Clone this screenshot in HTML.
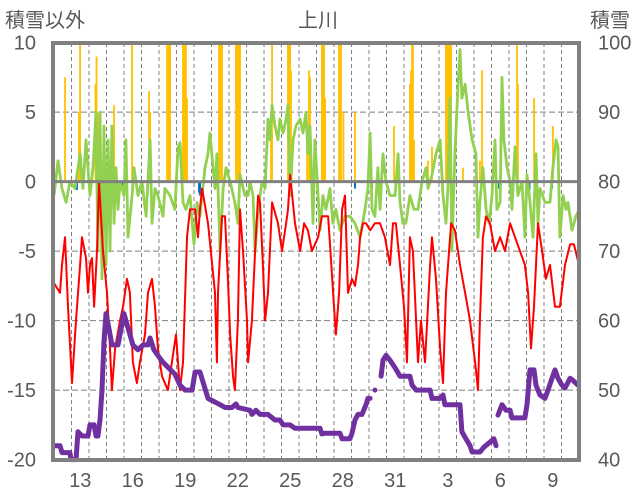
<!DOCTYPE html>
<html><head><meta charset="utf-8">
<style>
body{margin:0;background:#fff;}
svg{display:block;font-family:"Liberation Sans","Noto Sans CJK JP",sans-serif;}
</style></head>
<body>
<svg id="chart" width="636" height="501" viewBox="0 0 636 501">
<g id="grid"></g>
<g id="bars"></g>
<g id="lines"></g>
<g id="axes"></g>
<text x="318" y="27" font-size="20" fill="#595959" text-anchor="middle">上川</text>
<text x="5" y="27" font-size="20" fill="#595959">積雪以外</text>
<text x="590" y="27" font-size="20" fill="#595959">積雪</text>
</svg>
<script>
const xTickLabels=["13","16","19","22","25","28","31","3","6","9"];
const xTickDays=[1.5,4.5,7.5,10.5,13.5,16.5,19.5,22.5,25.5,28.5];
const leftTicks=[10,5,0,-5,-10,-15,-20];
const rightTicks=[100,90,80,70,60,50,40];
const yellowT=[.63,1.43,1.49,2.37,2.43,2.49,3.43,4.46,5.43,5.49,6.46,6.51,6.57,6.63,7.37,7.43,7.49,7.54,7.6,9.43,9.49,9.54,9.6,10.4,10.46,10.51,10.57,10.63,12.4,12.46,13.37,13.43,13.49,13.54,14.46,14.57,14.63,15.31,15.37,15.43,15.49,16.29,16.34,16.4,16.54,17.2,19.43,20.34,20.4,20.46,20.51,20.57,21.37,21.6,22.4,22.46,22.51,22.57,22.63,22.69,23.37,24.34,24.46,26.46,26.51,27.43,28.51];
const yellowV=[7.5,5,10,7,9,5,5.5,10,6.5,5,10,10,10,10,10,10,8,10,6,10,10,10,10,10,10,10,10,10,5,10,10,10,10,8,3.5,8,7.5,10,10,10,6,10,10,10,5,5,4,7,8,10,10,3,1.5,2.5,10,10,10,10,10,10,1,1.5,8,10,7,6,4];
const blueT=[1.31,3.94,8.29,8.34,17.2,18.17,18.69,25.43,27.09,27.17,28.46];
const blueV=[-0.6,-0.3,-0.8,-1,-0.5,-0.6,-1,-0.5,-0.6,-0.6,-0.5];
const greenT=[0,.23,.46,.69,.91,1.2,1.49,1.66,1.83,2.06,2.23,2.4,2.51,2.63,2.74,2.86,2.97,3.09,3.2,3.31,3.43,3.54,3.66,3.77,4,4.11,4.23,4.46,4.57,4.8,5.03,5.26,5.49,5.6,5.77,5.94,6.23,6.34,6.63,6.91,7.09,7.2,7.37,7.54,7.77,8,8.17,8.34,8.63,8.8,8.91,9.09,9.2,9.31,9.49,9.66,9.83,10.06,10.34,10.51,10.63,10.91,11.09,11.2,11.37,11.49,11.66,11.89,12.06,12.23,12.34,12.46,12.63,12.8,12.91,13.09,13.26,13.37,13.49,13.66,13.83,14.06,14.23,14.4,14.51,14.63,14.8,14.91,15.09,15.2,15.37,15.54,15.77,15.94,16.11,16.34,16.63,16.91,17.2,17.49,17.77,17.94,18.06,18.17,18.34,18.51,18.63,18.8,18.97,19.2,19.49,19.66,19.77,19.94,20.11,20.34,20.57,20.8,21.03,21.26,21.37,21.6,21.83,22.06,22.23,22.4,22.51,22.63,22.74,22.91,23.09,23.2,23.31,23.49,23.66,23.89,24.11,24.23,24.34,24.51,24.69,24.86,25.03,25.2,25.31,25.49,25.6,25.71,25.89,26.06,26.17,26.34,26.51,26.74,26.91,27.03,27.2,27.37,27.54,27.66,27.77,28.06,28.34,28.51,28.69,28.8,28.91,29.09,29.26,29.37,29.6,29.83,30];
const greenV=[-1,1.5,-0.5,-1.5,0,-0.5,2,-0.5,3,-1,1,5,-5,5,-7,4,-6,3,-5,4,-3,1,-2,0,-1,3,-4,-1,1,-1,0,-2.5,3,-3,-0.5,-1,-2.5,-0.5,-1,-2,2.5,2.8,-1.5,-2,-1,-4.5,-1.5,-2.5,1,2,3.5,1,-0.5,2,-5,-0.5,1,0,-1.5,-3,0.5,-1,-1,0,-1,-5,-2,0,-0.5,4.5,3,5.5,4,3,4.5,3.5,4.5,5.5,-1,3,4,4.5,3.5,5,2,4,-3,3,-1,-3.5,-1,-2,-0.5,-3,-2,-3.5,-2.5,-2.5,-3,-4,-2,-0.5,3.5,-2,-2.5,1,-2,2,0,-1,-1,2,-1.5,-3,-3,-1,-2,-2,0,1,-0.5,0.5,2,3,-1,-3,-0.5,6,-5,2,7,9.5,6,7,5,3,2,-4,-1.5,1,-2,-3,-1,3,-2,-1.5,7.5,3,1,0,-2,2.5,-1,0,-4,0.5,-1.5,-4,2,-3,-0.5,-1.5,-1.5,1,3,2.5,-4,-1,-2,-1.5,-3.5,-2.5,-2];
const redT=[0,.34,.46,.63,.8,1.03,1.26,1.49,1.6,1.83,1.94,2.06,2.17,2.29,2.46,2.57,2.8,3.03,3.2,3.31,3.49,3.77,3.94,4.17,4.34,4.51,4.74,4.91,5.2,5.37,5.6,5.77,5.94,6.17,6.51,6.74,6.97,7.2,7.37,7.6,7.77,8.06,8.23,8.34,8.46,8.8,9.2,9.31,9.37,9.6,9.77,9.94,10.06,10.23,10.34,10.51,10.63,10.8,11.03,11.09,11.31,11.49,11.66,11.77,11.94,12.06,12.23,12.46,12.8,13.03,13.26,13.37,13.49,13.77,14.06,14.29,14.51,14.74,15.09,15.31,15.66,15.77,16,16.11,16.29,16.46,16.63,16.8,17.03,17.2,17.37,17.49,17.66,17.83,18.06,18.34,18.63,18.91,19.2,19.37,19.54,19.77,20,20.17,20.34,20.51,20.69,20.8,20.97,21.2,21.49,21.6,21.83,22.06,22.23,22.4,22.69,22.91,23.2,23.49,23.77,24.06,24.23,24.34,24.51,24.69,24.91,25.2,25.49,25.77,26.06,26.34,26.63,26.91,27.09,27.26,27.43,27.66,27.89,28.11,28.34,28.63,28.91,29.2,29.49,29.71,30];
const redV=[-7.3,-8,-6,-4,-9,-14.5,-10,-6,-4,-5.5,-8,-6,-5.5,-9,-5,0,-5,-8,-12,-15,-12,-10,-9,-7,-8,-13,-14.5,-13,-11,-8,-7,-9,-12,-14,-15,-13,-11,-15,-13,-4,-2,-2,-4,-2,-0.5,-3,-8,-13,-8,-2.5,-2.5,-7,-11,-14,-15,-10,-2,-5,-10,-13,-10,-5,-1,-1.5,-6,-10,-8,-1.5,-3,-5,-3,-2,0.5,-3,-5,-3,-3.5,-5,-4,-2.5,-2.5,-4.5,-9,-11,-8,-2,-1,-8,-7,-7.5,-6,-4,-3,-3,-3.5,-3,-3,-4,-6,-3,-3,-6,-9,-13,-4,-5,-10,-13,-10,-13,-6,-4,-7,-12,-14.5,-8,-3,-3.5,-6,-8,-10,-13,-15,-10,-4,-2.5,-3,-5,-4,-5,-3,-4,-5,-6,-8,-12,-9,-3,-5,-7,-6,-9,-9,-6,-4.5,-4.5,-6];
const snowT=[0,.34,.46,.91,.97,1.26,1.37,1.6,1.94,2.06,2.29,2.4,2.51,2.63,2.74,2.86,2.97,3.09,3.2,3.31,3.66,3.77,4,4.11,4.34,4.51,4.8,5.09,5.37,5.49,5.71,5.94,6.23,6.63,6.91,7.2,7.49,7.89,8.06,8.34,8.57,8.8,9.03,9.49,9.77,10.17,10.4,10.51,11.2,11.31,11.54,11.77,12.23,12.63,12.91,13.09,13.49,13.77,15.2,15.31,15.49,16.34,16.46,16.91,17.03,17.2,17.37,17.6,17.83,17.94,18.06,18.2,18.34,18.5,18.69,18.8,18.97,19.2,19.49,19.77,20.34,20.46,20.69,21.49,21.6,22.06,22.23,22.34,23.2,23.31,23.54,23.77,23.89,24.34,24.57,24.91,25.14,25.26,25.32,25.37,25.6,25.83,26.06,26.17,26.91,27.03,27.2,27.43,27.54,27.77,28.06,28.23,28.46,28.63,28.8,29.03,29.2,29.49,29.66,29.94];
const snowV=[42,42,41,41,40,40,44,43.4,43.4,45,45,43.4,43.4,45.7,50,57,61,59.5,58,56.5,56.5,58,61,60,58,56.5,55.8,56.5,56.5,57.5,55.8,55,54,53,52.3,50.7,50,50,52.6,52.6,50.7,48.8,48.5,47.9,47.5,47.5,48,47.5,47.1,46.5,47.1,46.5,46.5,45.7,45.7,45,45,44.5,44.5,43.7,43.8,43.8,43,43,43.8,45.7,46.5,46.5,47.9,48.8,48.8,null,50,null,52,54.3,55,54.3,53.2,52,52,50.7,50,50,48.8,48.8,49.3,47.9,47.9,44,43,42,41.1,41.1,41.8,42.5,43,42,null,46.4,47.9,47.1,47.1,46,46,47.9,52.9,52.9,50.7,49.3,48.8,50,51.7,52.9,51.7,50.7,50.3,51.7,51.4,50.7];

const L=54,R=579,T=43,B=460,DAYS=30;
const xs=t=>L+(R-L)*t/DAYS;
const yl=v=>181.6-13.9*v;
const yr=v=>yl((v-80)/2);
const NS="http://www.w3.org/2000/svg";
function mk(tag,attrs,parent){const e=document.createElementNS(NS,tag);for(const k in attrs)e.setAttribute(k,attrs[k]);parent.appendChild(e);return e;}
const grid=document.getElementById('grid'),bars=document.getElementById('bars'),lines=document.getElementById('lines'),axes=document.getElementById('axes');

for(let d=1;d<DAYS;d++){
  const g=mk('line',{x1:xs(d),x2:xs(d),y1:T,y2:B,stroke:'#7f7f7f','stroke-width':1,'stroke-dasharray':'4,3'},grid);
  
  
}
leftTicks.forEach((v,i)=>{
  if(v!==0&&v!==10&&v!==-20){
    const g=mk('line',{x1:L,x2:R,y1:yl(v),y2:yl(v),stroke:'#7f7f7f','stroke-width':1,'stroke-dasharray':'6,3'},grid);
    
    
  }
  const t=mk('text',{x:36,y:yl(v)+7,'font-size':20,fill:'#595959','text-anchor':'end'},axes);
  t.textContent=v;
  
  
  const r=mk('text',{x:598,y:yl(v)+7,'font-size':20,fill:'#595959'},axes);
  r.textContent=rightTicks[i];
  
  
});
xTickDays.forEach((d,i)=>{
  const t=mk('text',{x:xs(d),y:487,'font-size':20,fill:'#595959','text-anchor':'middle'},axes);
  t.textContent=xTickLabels[i];
  
  
});
yellowT.forEach((t,i)=>{
  const v=Math.min(yellowV[i],10);
  const b=mk('rect',{x:xs(t)-0.9,y:yl(v),width:1.8,height:yl(0)-yl(v),fill:'#ffc000'},bars);
  
  
});
blueT.forEach((t,i)=>{
  const b=mk('rect',{x:xs(t)-1,y:yl(0),width:2,height:yl(blueV[i])-yl(0),fill:'#0070c0'},bars);
  
  
});
function path(T_,V_,yf){
  let d='',pen=false;
  T_.forEach((t,i)=>{const v=V_[i];if(v===null){pen=false;return;}d+=(pen?'L':'M')+xs(t).toFixed(1)+','+yf(v).toFixed(1);pen=true;});
  return d;
}
const g1=mk('path',{d:path(greenT,greenV,yl),fill:'none',stroke:'#92d050','stroke-width':2.8,'stroke-linejoin':'round'},lines);


const r1=mk('path',{d:path(redT,redV,yl),fill:'none',stroke:'#ff0000','stroke-width':2,'stroke-linejoin':'round'},lines);


const p1=mk('path',{d:path(snowT,snowV,yr),fill:'none',stroke:'#7030a0','stroke-width':5,'stroke-linejoin':'round','stroke-linecap':'round'},lines);


snowV.forEach((v,i)=>{
  if(v!==null&&snowV[i-1]===null&&snowV[i+1]===null){
    const c=mk('circle',{cx:xs(snowT[i]),cy:yr(v),r:2.5,fill:'#7030a0'},lines);
    
    
  }
});
const z=mk('line',{x1:L,x2:R,y1:yl(0),y2:yl(0),stroke:'#808080','stroke-width':3},axes);


const f=mk('rect',{x:L-1,y:T,width:R-L+1,height:B-T,fill:'none',stroke:'#808080','stroke-width':4},axes);


</script>
</body></html>
